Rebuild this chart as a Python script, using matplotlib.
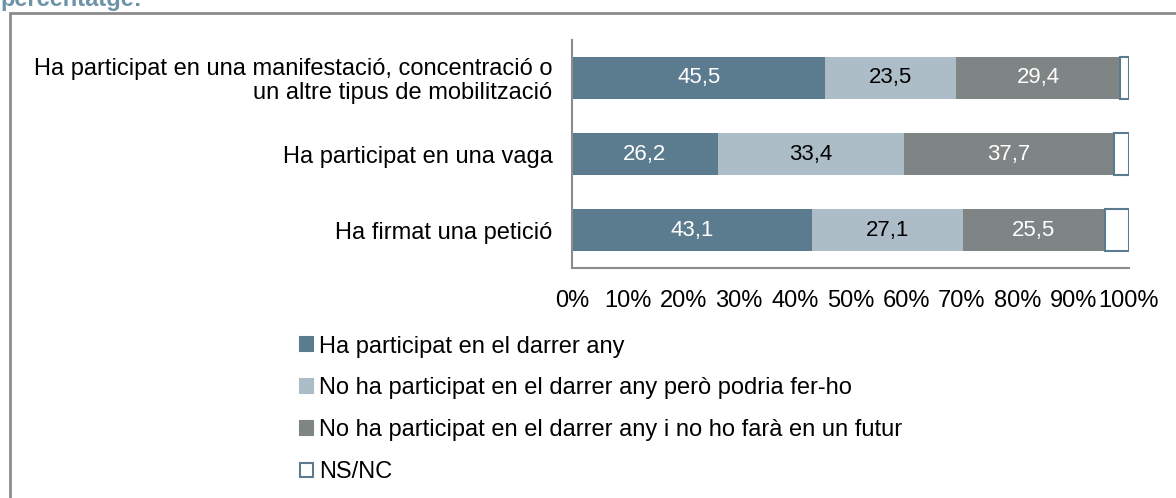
import matplotlib.pyplot as plt
from matplotlib.patches import Patch, Rectangle
import numpy as np

plt.rcParams['font.family'] = ['Liberation Sans', 'DejaVu Sans']

# dades (percentatges)
categories = ['Ha participat en una manifestació, concentració o\nun altre tipus de mobilització',
              'Ha participat en una vaga',
              'Ha firmat una petició']
series_names = ['Ha participat en el darrer any',
                'No ha participat en el darrer any però podria fer-ho',
                'No ha participat en el darrer any i no ho farà en un futur',
                'NS/NC']
participat = [45.5, 26.2, 43.1]
podria = [23.5, 33.4, 27.1]
no_fara = [29.4, 37.7, 25.5]
nsnc = [1.6, 2.7, 4.3]
xticks = [0, 10, 20, 30, 40, 50, 60, 70, 80, 90, 100]

colors = ['#5b7c8f', '#adbdc8', '#7f8484', 'white']
text_colors = ['white', 'black', 'white', None]

fig = plt.figure(figsize=(11.76, 4.98), dpi=100)
ax = fig.add_axes([0.4864, 0.4618, 0.4736, 0.4579])

y = np.arange(len(categories))
left = np.zeros(len(categories))
for vals, col, tcol, name in zip([participat, podria, no_fara, nsnc], colors, text_colors, series_names):
    vals = np.array(vals)
    if col == 'white':
        ax.barh(y, vals, left=left, height=0.55, color=col, edgecolor='#5b7c8f', linewidth=1.5, label=name)
    else:
        bars = ax.barh(y, vals, left=left, height=0.55, color=col, edgecolor='none', label=name)
        ax.bar_label(bars, labels=[f'{v:.1f}'.replace('.', ',') for v in vals],
                     label_type='center', color=tcol, fontsize=16)
    left += vals

ax.set_ylim(2.5, -0.5)
ax.set_xlim(0, 100)
ax.set_yticks(y)
ax.set_yticklabels(categories, fontsize=17)
ax.get_yticklabels()[0].set_linespacing(1.1)
ax.set_xticks(xticks)
ax.set_xticklabels([f'{t}%' for t in xticks], fontsize=17)
ax.tick_params(length=0)
ax.tick_params(axis='x', pad=16)
ax.tick_params(axis='y', pad=14)
for s in ['top', 'right']:
    ax.spines[s].set_visible(False)
for s in ['left', 'bottom']:
    ax.spines[s].set_color('#8c8c8c')
    ax.spines[s].set_linewidth(1.5)

handles = [Patch(facecolor=c, edgecolor=('#5b7c8f' if c == 'white' else c), linewidth=1.5)
           for c in colors]
fig.legend(handles, series_names, loc='upper left', bbox_to_anchor=(0.247, 0.345),
           frameon=False, fontsize=17, handlelength=0.55, handleheight=0.55,
           handletextpad=0.25, labelspacing=0.84, borderaxespad=0)

# marc exterior
fig.add_artist(Rectangle((9.5 / 1176, -0.01), 1.02, 1 - 13 / 498 + 0.01, transform=fig.transFigure,
                         fill=False, edgecolor='#8c8c8c', linewidth=2))
fig.text(0.0, 1 - 6 / 498, 'percentatge:', fontsize=17, fontweight='bold', color='#6e93a8',
         ha='left', va='baseline')

fig.savefig('out.png', dpi=100)
